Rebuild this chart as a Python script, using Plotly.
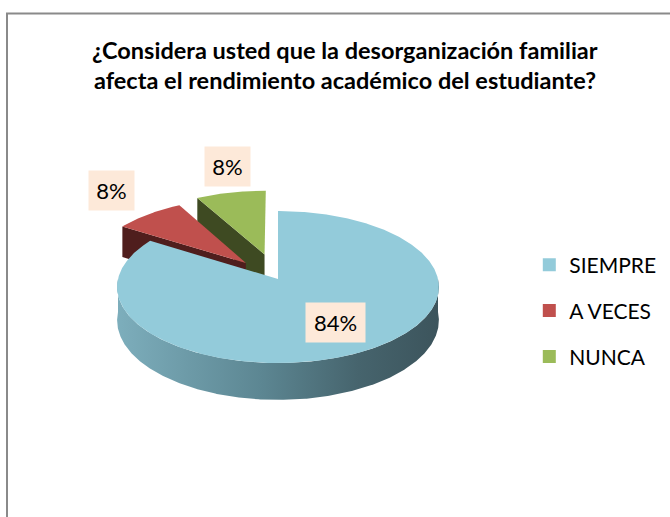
import numpy as np
import plotly.graph_objects as go

# ---------------- data ----------------
categories = ["SIEMPRE", "A VECES", "NUNCA"]
values = [84, 8, 8]
pct_labels = ["84%", "8%", "8%"]
title_lines = ["¿Considera usted que la desorganización familiar",
               "afecta el rendimiento académico del estudiante?"]

# ---------------- style ----------------
W, H = 670, 517
FONT = "Lato"
top_colors = {"SIEMPRE": "#93CBDA", "A VECES": "#C0504D", "NUNCA": "#9BBB59"}
face_colors = {"SIEMPRE": "#5F8D99", "A VECES": "#4F1E1D", "NUNCA": "#3E4A22"}
side_scale = [[0.0, "#7DAEBC"], [0.45, "#5C8692"], [0.75, "#46646D"], [1.0, "#3C545C"]]
explode = {"SIEMPRE": 0.0, "A VECES": 0.30, "NUNCA": 0.35}
label_r = {"SIEMPRE": 0.65, "A VECES": 1.75, "NUNCA": 1.75}
label_shift = {"SIEMPRE": (4.5, -2), "A VECES": (2.5, -3.5), "NUNCA": (9, -4.5)}

# 3-D pie projection (pixel space)
CX, CY, RX, RY, P, DEPTH = 278, 279, 160, 75.2, 0.105, 33


def proj(u, v, down=0.0):
    u = np.asarray(u, dtype=float)
    v = np.asarray(v, dtype=float)
    s = 1.0 / (1.0 - P * v)
    return CX + RX * u * s, CY + (RY * v + DEPTH * down) * s


total = float(sum(values))
spans = [v / total * 360.0 for v in values]
starts = np.concatenate([[0.0], np.cumsum(spans)[:-1]])

slices = []
for name, a0, span, lab in zip(categories, starts, spans, pct_labels):
    a1 = a0 + span
    mid = np.radians((a0 + a1) / 2)
    e = explode[name]
    slices.append(dict(name=name, a0=a0, a1=a1, mid=mid, lab=lab,
                       ox=e * np.sin(mid), oy=-e * np.cos(mid)))

# back-to-front
slices.sort(key=lambda s: -np.cos(s["mid"]))

fig = go.Figure()


def poly(xs, ys, **kw):
    fig.add_trace(go.Scatter(x=list(xs), y=list(ys), mode="lines", fill="toself",
                             line=dict(width=0), hoverinfo="skip",
                             showlegend=False, **kw))


for s in slices:
    name, a0, a1, ox, oy = s["name"], s["a0"], s["a1"], s["ox"], s["oy"]
    # radial cut faces facing the viewer
    for ang, sign in ((a0, -1), (a1, 1)):
        t = np.radians(ang)
        nv = sign * np.sin(t)
        if nv > 1e-6:
            ou, ov = ox + np.sin(t), oy - np.cos(t)
            pu = [ox, ou, ou, ox]
            pv = [oy, ov, ov, oy]
            pd = [0, 0, 1, 1]
            xs, ys = zip(*[proj(u, v, d) for u, v, d in zip(pu, pv, pd)])
            poly(xs, ys, fillcolor=face_colors[name])
    # outer curved side (front part)
    f0, f1 = max(a0, 90.0), min(a1, 270.0)
    if f1 > f0:
        th = np.radians(np.linspace(f0, f1, int(f1 - f0) * 2 + 2))
        u = ox + np.sin(th)
        v = oy - np.cos(th)
        xt, yt = proj(u, v, 0)
        xb, yb = proj(u, v, 1)
        poly(np.concatenate([xt, xb[::-1], xt[:1]]),
             np.concatenate([yt, yb[::-1], yt[:1]]),
             fillgradient=dict(type="horizontal", colorscale=side_scale))
    # top face
    th = np.radians(np.linspace(a0, a1, int(a1 - a0) * 2 + 3))
    xa, ya = proj(ox + np.sin(th), oy - np.cos(th), 0)
    xc, yc = proj(ox, oy, 0)
    poly(np.concatenate([[xc], xa, [xc]]), np.concatenate([[yc], ya, [yc]]),
         fillcolor=top_colors[name])

# legend entries
for i, name in enumerate(categories):
    fig.add_trace(go.Scatter(x=[None], y=[None], mode="markers", name=name,
                             legendgroup=name,
                             marker=dict(symbol="square", size=13, color=top_colors[name])))

# data labels
for s in slices:
    R = label_r[s["name"]]
    lx, ly = proj(R * np.sin(s["mid"]), -R * np.cos(s["mid"]), 0)
    dx, dy = label_shift[s["name"]]
    w = 45 if len(s["lab"]) > 2 else 31
    fig.add_annotation(x=float(lx) + dx, y=float(ly) + dy, text=s["lab"], showarrow=False,
                       xref="x", yref="y", xanchor="center", yanchor="middle",
                       bgcolor="#FDE9D9", borderpad=7, width=w, height=25,
                       font=dict(family=FONT, size=22, color="#000000"))

# title
for i, line in enumerate(title_lines):
    fig.add_annotation(x=345, y=50 + 30 * i, text="<b>" + line + "</b>", showarrow=False,
                       xref="x", yref="y", xanchor="center", yanchor="middle",
                       font=dict(family=FONT, size=23.5, color="#000000"))

# chart-area frame
fig.add_shape(type="rect", x0=7, y0=13.5, x1=W + 40, y1=H + 40, xref="x", yref="y",
              line=dict(color="#8A8A8A", width=2), fillcolor="rgba(0,0,0,0)", layer="above")

fig.update_layout(
    width=W, height=H, margin=dict(l=0, r=0, t=0, b=0),
    paper_bgcolor="#FFFFFF", plot_bgcolor="#FFFFFF",
    xaxis=dict(range=[0, W], visible=False, fixedrange=True),
    yaxis=dict(range=[H, 0], visible=False, fixedrange=True),
    showlegend=True,
    legend=dict(x=0.79, y=0.5268, xanchor="left", yanchor="top",
                font=dict(family=FONT, size=21, color="#000000"),
                tracegroupgap=15.5, itemsizing="trace", bgcolor="rgba(0,0,0,0)"),
    font=dict(family=FONT),
)

fig.write_html("out.html", config={"displayModeBar": False},
               post_script="document.body.style.margin='0px';")
